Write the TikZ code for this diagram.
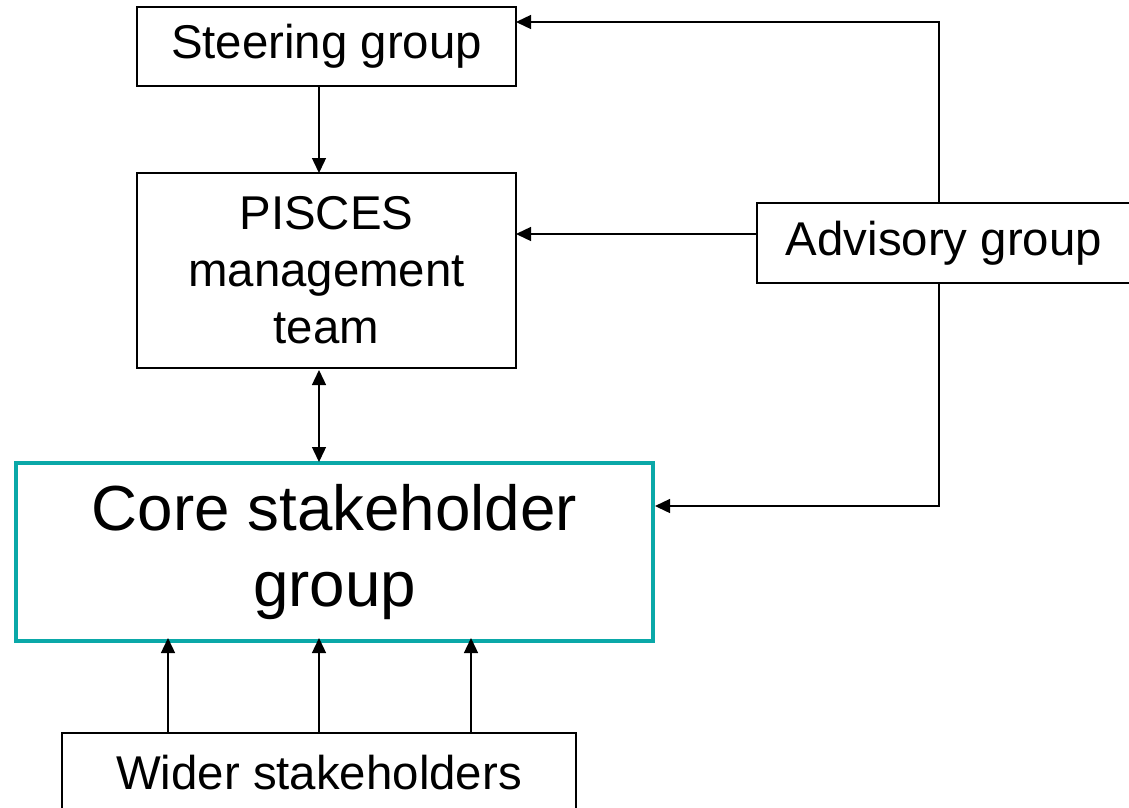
\documentclass[tikz,border=0pt]{standalone}
\usepackage{fontspec}
\setmainfont{Liberation Sans}
\usetikzlibrary{arrows.meta}
\definecolor{teal1}{RGB}{10,168,168}
\begin{document}
\begin{tikzpicture}[x=1pt,y=-1pt,
  box/.style={draw=black,line width=1.6pt,rectangle,inner sep=0pt,outer sep=0pt,align=center,
    font=\fontsize{47.4}{56.9}\selectfont},
  corebox/.style={draw=teal1,line width=4.5pt,rectangle,inner sep=0pt,outer sep=0pt,align=center,
    font=\fontsize{63.7}{76.4}\selectfont},
  arr/.style={line width=1.4pt,-{Triangle[length=15pt,width=14pt]}},
  darr/.style={line width=1.4pt,{Triangle[length=15pt,width=14pt]}-{Triangle[length=15pt,width=14pt]}}]
\useasboundingbox (0,0) rectangle (1129,807);
\fill[white] (0,0) rectangle (1129,807);
\node[box,minimum width=379pt,minimum height=79pt] (steering) at (326.5,46.5) {Steering group};
\node[box,minimum width=379pt,minimum height=195pt] (pisces) at (326.5,270.5) {PISCES\\management\\team};
\node[box,minimum width=374pt,minimum height=80pt] (advisory) at (944,243) {Advisory group};
\node[corebox,minimum width=637pt,minimum height=178pt] (core) at (334.5,552) {Core stakeholder\\group};
\node[box,minimum width=514pt,minimum height=80pt] (wider) at (319,773) {Wider stakeholders};
\coordinate (cx) at (319,0);
\coordinate (ax) at (939,0);
\coordinate (ya) at (0,234);
\coordinate (yt) at (0,22);
\coordinate (yb) at (0,506);
\coordinate (w1) at (168,0);
\coordinate (w3) at (471,0);
\draw[arr] (cx |- steering.south) -- (cx |- pisces.north);
\draw[darr] ([yshift=-2pt]cx |- pisces.south) -- ([yshift=1pt]cx |- core.north);
\draw[arr] (advisory.west |- ya) -- (pisces.east |- ya);
\draw[arr] (ax |- advisory.north) |- (steering.east |- yt);
\draw[arr] (ax |- advisory.south) |- ([xshift=2pt]core.east |- yb);
\draw[arr] (w1 |- wider.north) -- ([yshift=3pt]w1 |- core.south);
\draw[arr] (cx |- wider.north) -- ([yshift=3pt]cx |- core.south);
\draw[arr] (w3 |- wider.north) -- ([yshift=3pt]w3 |- core.south);
\end{tikzpicture}
\end{document}
